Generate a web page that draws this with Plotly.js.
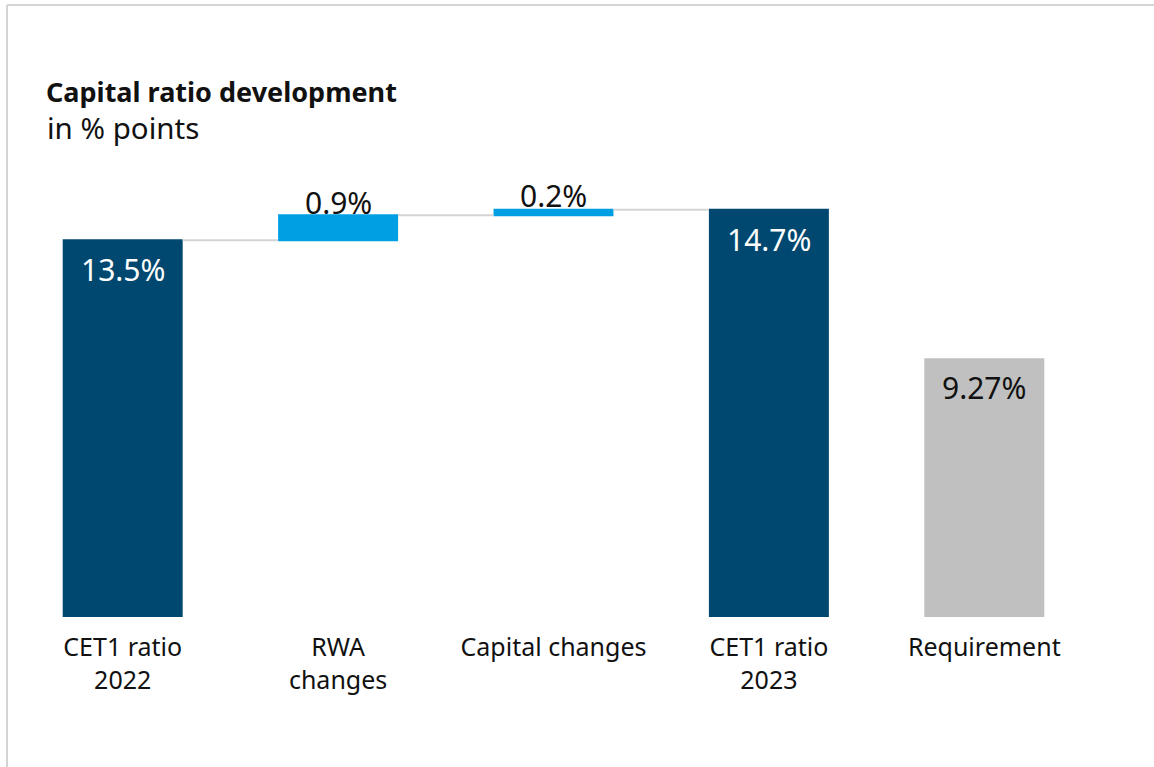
<!DOCTYPE html>
<html>
<head>
<meta charset="utf-8">
<script src="https://cdn.plot.ly/plotly-3.0.1.min.js"></script>
<style>
  html, body { margin: 0; padding: 0; background: #ffffff; }
  #chart { width: 1154px; height: 767px; }
</style>
</head>
<body>
<div id="chart"></div>
<script>
// ---- data ----
const categories = ['CET1 ratio<br>2022', 'RWA<br>changes', 'Capital changes', 'CET1 ratio<br>2023', 'Requirement'];
const measures = ['absolute', 'relative', 'relative', 'total'];
const waterfallValues = [13.5, 0.9, 0.2, 0];
const requirementValue = [9.27];
const labels = ['13.5%', '0.9%', '0.2%', '14.7%', '9.27%'];
const titleText = 'Capital ratio development';
const subtitleText = 'in % points';

const NAVY = '#00486F';
const LIGHT = '#009FE3';
const GREY = '#C0C0C0';
const FONT = 'Noto Sans, Open Sans, sans-serif';

const wfX = categories.slice(0, 4);

const traces = [
  {
    type: 'waterfall',
    x: wfX,
    y: waterfallValues,
    measure: measures,
    width: 0.557,
    increasing: { marker: { color: LIGHT } },
    decreasing: { marker: { color: LIGHT } },
    totals: { marker: { color: NAVY } },
    connector: { mode: 'between', line: { color: '#D4D4D4', width: 2 } },
    hoverinfo: 'none',
    textinfo: 'none'
  },
  {
    type: 'bar',
    x: [categories[4]],
    y: requirementValue,
    width: 0.557,
    marker: { color: GREY },
    hoverinfo: 'none'
  }
];

// cumulative tops for label placement
const tops = [];
let run = 0;
measures.forEach((m, i) => {
  if (m === 'absolute') run = waterfallValues[i];
  else if (m === 'relative') run += waterfallValues[i];
  tops.push(run);
});
tops.push(requirementValue[0]);

const inside = [true, false, false, true, true];
const labelColors = ['#ffffff', '#111111', '#111111', '#ffffff', '#111111'];
const labelShift = [-7, -10, -8, -7, -7];

const annotations = categories.map((c, i) => ({
  x: c,
  y: tops[i],
  xref: 'x',
  yref: 'y',
  text: labels[i],
  showarrow: false,
  xanchor: 'center',
  yanchor: inside[i] ? 'top' : 'bottom',
  yshift: labelShift[i],
  font: { family: FONT, size: 30, color: labelColors[i] }
}));

// frame + subtitle positions in pixel terms converted to paper
const L = 15, R = 62, T = 160, B = 150;
const W = 1154, H = 767;
const pw = W - L - R, ph = H - T - B;
const px = v => (v - L) / pw;
const py = v => (H - B - v) / ph;

annotations.push({
  xref: 'paper', yref: 'paper',
  x: px(46), y: py(149),
  xanchor: 'left', yanchor: 'bottom',
  borderpad: 0,
  showarrow: false,
  text: subtitleText,
  font: { family: FONT, size: 29.5, color: '#111111' }
});

const shapes = [
  { type: 'line', xref: 'paper', yref: 'paper', x0: px(7), x1: px(1160), y0: py(5), y1: py(5),
    line: { color: '#D4D4D4', width: 2 } },
  { type: 'line', xref: 'paper', yref: 'paper', x0: px(7), x1: px(7), y0: py(5), y1: py(780),
    line: { color: '#D4D4D4', width: 2 } }
];

const layout = {
  width: W,
  height: H,
  margin: { l: L, r: R, t: T, b: B },
  paper_bgcolor: '#ffffff',
  plot_bgcolor: '#ffffff',
  showlegend: false,
  font: { family: FONT, color: '#111111' },
  title: {
    text: '<b>' + titleText + '</b>',
    font: { family: FONT, size: 27, color: '#111111' },
    xref: 'container',
    yref: 'container',
    x: 46 / W,
    xanchor: 'left',
    y: 1 - 83 / H,
    yanchor: 'top'
  },
  xaxis: {
    type: 'category',
    categoryorder: 'array',
    categoryarray: categories,
    showgrid: false,
    zeroline: false,
    showline: false,
    ticks: '',
    ticklabelstandoff: 13,
    tickfont: { family: FONT, size: 25, color: '#111111' },
    fixedrange: true
  },
  yaxis: {
    range: [0, 16.38],
    visible: false,
    showgrid: false,
    zeroline: false,
    fixedrange: true
  },
  annotations: annotations,
  shapes: shapes
};

Plotly.newPlot('chart', traces, layout, { displayModeBar: false, staticPlot: true });
</script>
</body>
</html>
